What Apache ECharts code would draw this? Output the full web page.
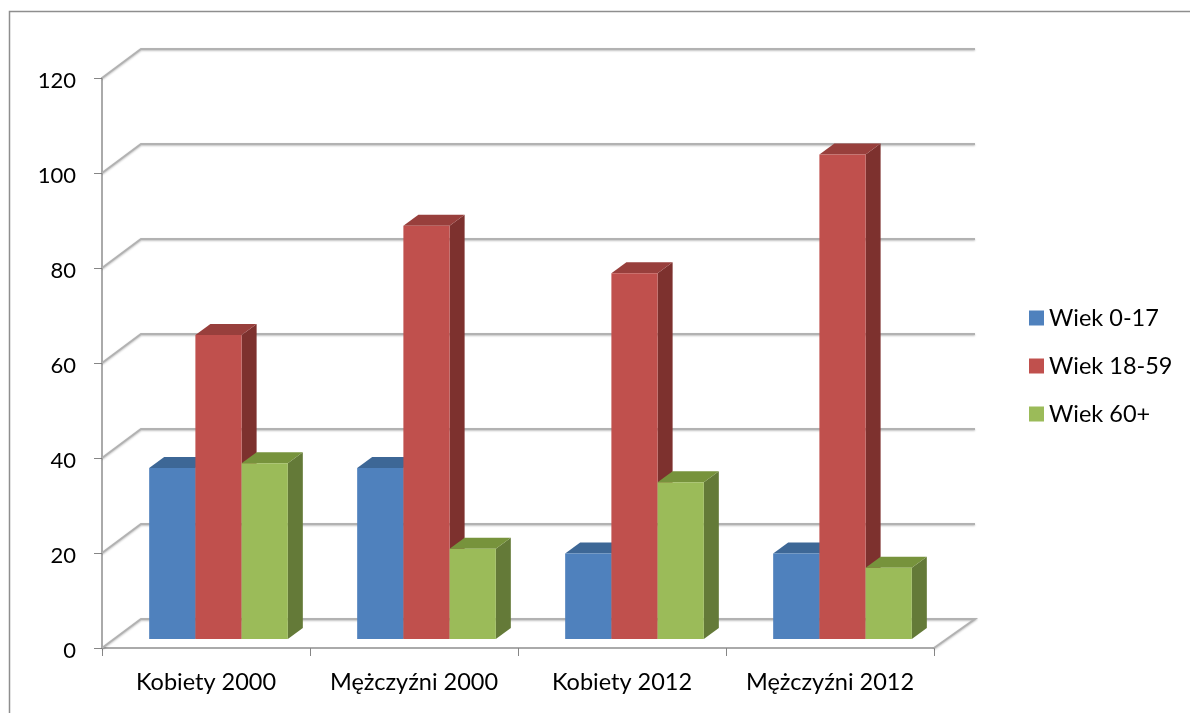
<!DOCTYPE html>
<html lang="pl">
<head>
    <meta charset="UTF-8">
    <title>Wiek</title>
    <script src="https://cdn.jsdelivr.net/npm/echarts@6/dist/echarts.min.js"></script>
    <style>
        html, body { margin: 0; padding: 0; background: #fff; overflow: hidden; }
        #chart { width: 1190px; height: 713px; }
    </style>
</head>
<body>
    <div id="chart"></div>
    <script>
        const categories = ['Kobiety 2000', 'Mężczyźni 2000', 'Kobiety 2012', 'Mężczyźni 2012'];
        const seriesNames = ['Wiek 0-17', 'Wiek 18-59', 'Wiek 60+'];
        const wiek0017 = [36, 36, 18, 18];
        const wiek1859 = [64, 87, 77, 102];
        const wiek60 = [37, 19, 33, 15];
        const yTicks = [0, 20, 40, 60, 80, 100, 120];

        const frontColors = ['#4f81bd', '#c0504d', '#9bbb59'];
        const topColors = ['#3d6796', '#983f3c', '#77933c'];
        const sideColors = ['#385d8a', '#7d312e', '#647a38'];

        const FONT = 'Lato, "Noto Sans", sans-serif';
        // 3D look: depth of the chart box and of one bar, in pixels
        const WALL_DX = 39, WALL_DY = -29;
        const BAR_DX = 15, BAR_DY = -11;
        const BASE_DX = 12.5, BASE_DY = -9;

        function renderWall(params, api) {
            const box = params.coordSys;
            const y = api.coord([0, api.value(0)])[1];
            const left = box.x;
            const right = box.x + box.width;
            const points = [[left, y], [left + WALL_DX, y + WALL_DY], [right + WALL_DX + 2, y + WALL_DY]];
            // floor also closes on the right hand side
            if (api.value(0) === 0) points.push([right, y]);
            return {
                type: 'polyline',
                shape: { points: points },
                style: {
                    fill: null,
                    stroke: '#b2b2b2',
                    lineWidth: 2,
                    shadowBlur: 2,
                    shadowOffsetY: 1,
                    shadowColor: 'rgba(0,0,0,0.25)'
                }
            };
        }

        function makeRenderBar(seriesIndex) {
            return function (params, api) {
                const center = api.coord([api.value(0), api.value(1)]);
                const base = api.coord([api.value(0), 0]);
                const barWidth = api.size([1, 0])[0] / 4.5;
                const x0 = center[0] - barWidth * 1.5 + seriesIndex * barWidth + BASE_DX;
                const x1 = x0 + barWidth;
                const yTop = center[1] + BASE_DY;
                const yBase = base[1] + BASE_DY;
                return {
                    type: 'group',
                    children: [
                        {
                            type: 'polygon',
                            shape: { points: [[x1, yTop], [x1 + BAR_DX, yTop + BAR_DY], [x1 + BAR_DX, yBase + BAR_DY], [x1, yBase]] },
                            style: { fill: sideColors[seriesIndex] }
                        },
                        {
                            type: 'polygon',
                            shape: { points: [[x0, yTop], [x0 + BAR_DX, yTop + BAR_DY], [x1 + BAR_DX, yTop + BAR_DY], [x1, yTop]] },
                            style: { fill: topColors[seriesIndex] }
                        },
                        {
                            type: 'rect',
                            shape: { x: x0, y: yTop, width: barWidth, height: yBase - yTop },
                            style: { fill: frontColors[seriesIndex] }
                        }
                    ]
                };
            };
        }

        const barValues = [wiek0017, wiek1859, wiek60];

        const chart = echarts.init(document.getElementById('chart'));
        chart.setOption({
            animation: false,
            backgroundColor: '#fff',
            textStyle: { fontFamily: FONT },
            grid: { left: 102, right: 256, top: 78, bottom: 65 },
            legend: {
                data: seriesNames,
                orient: 'vertical',
                left: 1024,
                top: 301,
                icon: 'rect',
                itemWidth: 15,
                itemHeight: 15,
                itemGap: 24,
                textStyle: { fontFamily: FONT, fontSize: 23.5, lineHeight: 24, color: '#000' }
            },
            xAxis: {
                type: 'category',
                data: categories,
                axisLine: { lineStyle: { color: '#aaaaaa', width: 2 } },
                axisTick: { show: true, interval: 0, alignWithLabel: false, length: 8, lineStyle: { color: '#868686', width: 1 } },
                axisLabel: { interval: 0, hideOverlap: false, fontFamily: FONT, fontSize: 23.5, color: '#000', margin: 22 }
            },
            yAxis: {
                type: 'value',
                min: 0,
                max: 120,
                interval: 20,
                splitLine: { show: false },
                axisLine: { show: true, lineStyle: { color: '#aaaaaa', width: 2 } },
                axisTick: { show: true, length: 8, lineStyle: { color: '#868686', width: 1 } },
                axisLabel: { fontFamily: FONT, fontSize: 22, color: '#000', margin: 26, verticalAlign: 'top', lineHeight: 5 }
            },
            graphic: [
                // outer chart frame, cut off by the window on the right and bottom
                {
                    type: 'polyline',
                    shape: { points: [[9.5, 713], [9.5, 11.5], [1190, 11.5]] },
                    style: { fill: null, stroke: '#8e8e8e', lineWidth: 1.5 }
                }
            ],
            series: [
                {
                    name: 'wall',
                    type: 'custom',
                    renderItem: renderWall,
                    encode: { y: 0 },
                    data: yTicks.map(v => [v]),
                    silent: true,
                    z: 1
                }
            ].concat(seriesNames.map((name, i) => ({
                name: name,
                type: 'custom',
                renderItem: makeRenderBar(i),
                encode: { x: 0, y: 1 },
                itemStyle: { color: frontColors[i] },
                data: barValues[i].map((v, c) => [c, v]),
                z: 2 + i
            })))
        });
    </script>
</body>
</html>
